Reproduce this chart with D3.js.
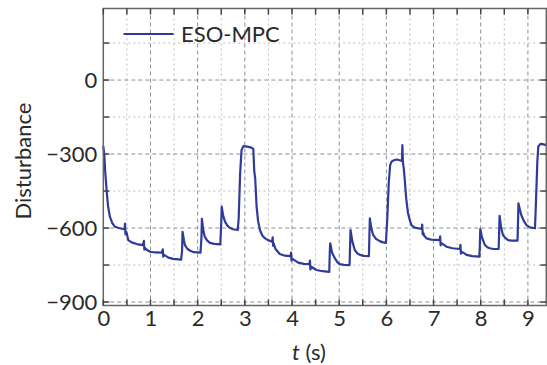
<!DOCTYPE html>
<html>
<head>
<meta charset="utf-8">
<script src="https://cdn.jsdelivr.net/npm/d3@7"></script>
<style>
  body { margin: 0; background: #fff; }
  svg { display: block; }
  text { font-family: Lato, "Open Sans", sans-serif; fill: #2a2a2a; }
</style>
</head>
<body>
<div id="plot"></div>
<script>
// Data (t in s, disturbance)
var tValues = [
  0.00, 0.02, 0.04, 0.07, 0.10, 0.14, 0.19, 0.25, 0.33, 0.42,
  0.45, 0.46, 0.47, 0.49, 0.53, 0.60, 0.71, 0.84,
  0.86, 0.87, 0.88, 0.92, 0.99, 1.10, 1.24,
  1.26, 1.27, 1.28, 1.38, 1.48, 1.59, 1.65,
  1.67, 1.68, 1.71, 1.73, 1.78, 1.84, 1.92, 2.06,
  2.08, 2.09, 2.12, 2.15, 2.20, 2.26, 2.35, 2.48,
  2.50, 2.51, 2.54, 2.58, 2.63, 2.68, 2.75, 2.85,
  2.87, 2.90, 2.93, 2.97, 3.05, 3.14, 3.18,
  3.20, 3.22, 3.25, 3.28, 3.32, 3.37, 3.43, 3.50, 3.58,
  3.59, 3.60, 3.61, 3.65, 3.74, 3.85, 3.97,
  3.98, 3.99, 4.00, 4.05, 4.13, 4.25, 4.37,
  4.38, 4.39, 4.40, 4.45, 4.52, 4.65, 4.79,
  4.80, 4.81, 4.85, 4.91, 4.96, 5.01, 5.10, 5.22,
  5.23, 5.24, 5.28, 5.33, 5.38, 5.44, 5.52, 5.63,
  5.64, 5.65, 5.68, 5.72, 5.78, 5.86, 5.93, 5.99,
  6.02, 6.05, 6.08, 6.11, 6.16, 6.22, 6.30, 6.33,
  6.34, 6.35, 6.37, 6.39, 6.42, 6.46, 6.50, 6.53, 6.60, 6.75,
  6.76, 6.77, 6.78, 6.80, 6.85, 6.95, 7.13,
  7.14, 7.15, 7.16, 7.20, 7.28, 7.40, 7.56,
  7.57, 7.58, 7.59, 7.63, 7.70, 7.82, 7.97,
  7.98, 7.99, 8.03, 8.09, 8.14, 8.19, 8.27, 8.38,
  8.39, 8.40, 8.43, 8.47, 8.52, 8.58, 8.65, 8.78,
  8.79, 8.80, 8.83, 8.86, 8.91, 8.97, 9.04, 9.15,
  9.17, 9.20, 9.22, 9.26, 9.29, 9.35, 9.39
];
var disturbance = [
  -268, -300, -370, -446, -510, -554, -580, -595, -600, -604,
  -606, -582, -626, -616, -649, -658, -665, -669,
  -652, -688, -680, -688, -696, -699, -700,
  -686, -716, -708, -720, -725, -727, -728,
  -690, -615, -650, -669, -684, -692, -698, -700,
  -640, -563, -610, -635, -650, -660, -664, -666,
  -580, -513, -550, -574, -590, -599, -605, -608,
  -560, -380, -284, -268, -270, -274, -280,
  -370, -400, -514, -570, -608, -630, -642, -650, -655,
  -638, -672, -662, -685, -705, -712, -714,
  -700, -732, -724, -730, -740, -745, -746,
  -732, -768, -756, -762, -770, -775, -778,
  -700, -662, -700, -723, -738, -746, -749, -750,
  -680, -608, -655, -689, -702, -709, -713, -714,
  -630, -561, -600, -628, -644, -653, -658, -660,
  -560, -420, -345, -331, -325, -322, -326, -328,
  -264, -332, -360, -405, -480, -541, -570, -588, -598, -604,
  -586, -626, -618, -630, -642, -647, -649,
  -634, -670, -660, -665, -676, -682, -685,
  -668, -704, -696, -700, -709, -714, -716,
  -680, -604, -640, -669, -678, -682, -685, -685,
  -620, -551, -595, -628, -640, -649, -651, -651,
  -580, -500, -525, -547, -570, -588, -597, -601,
  -500, -330, -270, -260, -259, -262, -264
];

var xTicks = [0, 1, 2, 3, 4, 5, 6, 7, 8, 9];
var xMinor = d3.range(0.5, 9.4, 1);
var yTicks = [-900, -600, -300, 0];
var yMinor = [-750, -450, -150, 150];

var seriesName = "ESO-MPC";
var xLabel = "t";
var yLabel = "Disturbance";

var width = 547, height = 365;
var lineColour = "#2f3b9b";
var fontSize = "22px";

var svg = d3.select("#plot")
  .append("svg")
  .attr("width", width)
  .attr("height", height);

var x = d3.scaleLinear().domain([0, 9.39]).range([103.3, 546.3]);
var y = d3.scaleLinear().domain([-914, 290]).range([305.5, 8.5]);

var plotLeft = x.range()[0], plotRight = x.range()[1];
var plotTop = y.range()[1], plotBottom = y.range()[0];

// Grid lines
var grid = svg.append("g");
grid.selectAll(".vminor").data(xMinor).enter().append("line")
  .attr("x1", d => x(d)).attr("x2", d => x(d))
  .attr("y1", plotTop).attr("y2", plotBottom)
  .attr("stroke", "#b8bcc0").attr("stroke-width", 1).attr("stroke-dasharray", "2,3");
grid.selectAll(".hminor").data(yMinor).enter().append("line")
  .attr("x1", plotLeft).attr("x2", plotRight)
  .attr("y1", d => y(d)).attr("y2", d => y(d))
  .attr("stroke", "#b8bcc0").attr("stroke-width", 1).attr("stroke-dasharray", "2,3");
grid.selectAll(".vmajor").data(xTicks.filter(d => d > 0)).enter().append("line")
  .attr("x1", d => x(d)).attr("x2", d => x(d))
  .attr("y1", plotTop).attr("y2", plotBottom)
  .attr("stroke", "#8a9098").attr("stroke-width", 1).attr("stroke-dasharray", "4,3");
grid.selectAll(".hmajor").data(yTicks).enter().append("line")
  .attr("x1", plotLeft).attr("x2", plotRight)
  .attr("y1", d => y(d)).attr("y2", d => y(d))
  .attr("stroke", "#8a9098").attr("stroke-width", 1).attr("stroke-dasharray", "4,3");

// Curve
var line = d3.line()
  .x((d, i) => x(tValues[i]))
  .y(d => y(d));

svg.append("path")
  .datum(disturbance)
  .attr("d", line)
  .attr("fill", "none")
  .attr("stroke", lineColour)
  .attr("stroke-width", 2.2)
  .attr("stroke-linejoin", "round");

// Frame
svg.append("rect")
  .attr("x", plotLeft).attr("y", plotTop)
  .attr("width", plotRight - plotLeft).attr("height", plotBottom - plotTop)
  .attr("fill", "none").attr("stroke", "#666").attr("stroke-width", 1.5);

// Ticks (inward) on all four sides
var allX = xTicks.concat(xMinor), allY = yTicks.concat(yMinor);
var tk = svg.append("g").attr("stroke", "#444").attr("stroke-width", 1.5);
allX.forEach(function(d) {
  tk.append("line").attr("x1", x(d)).attr("x2", x(d)).attr("y1", plotBottom).attr("y2", plotBottom - 6);
  tk.append("line").attr("x1", x(d)).attr("x2", x(d)).attr("y1", plotTop).attr("y2", plotTop + 6);
});
allY.forEach(function(d) {
  tk.append("line").attr("y1", y(d)).attr("y2", y(d)).attr("x1", plotLeft).attr("x2", plotLeft + 6);
  tk.append("line").attr("y1", y(d)).attr("y2", y(d)).attr("x1", plotRight).attr("x2", plotRight - 6);
});

// Tick labels via axes
var xAxis = d3.axisBottom(x).tickValues(xTicks).tickSize(0).tickPadding(5)
  .tickFormat(d3.format("d"));
var gx = svg.append("g").attr("transform", "translate(0," + plotBottom + ")").call(xAxis);
gx.select(".domain").remove();
gx.selectAll("text").style("font-family", "Lato, sans-serif").style("font-size", fontSize).attr("fill", "#2a2a2a");

var yAxis = d3.axisLeft(y).tickValues(yTicks).tickSize(0).tickPadding(6)
  .tickFormat(d => d < 0 ? "\u2212" + Math.abs(d) : d);
var gy = svg.append("g").attr("transform", "translate(" + plotLeft + ",0)").call(yAxis);
gy.select(".domain").remove();
gy.selectAll("text").style("font-family", "Lato, sans-serif").style("font-size", fontSize).attr("fill", "#2a2a2a");

// Axis titles
svg.append("text")
  .attr("transform", "translate(31,161) rotate(-90)")
  .attr("text-anchor", "middle")
  .style("font-size", fontSize)
  .text(yLabel);

var xt = svg.append("text")
  .attr("x", 309).attr("y", 360)
  .attr("text-anchor", "middle")
  .style("font-size", fontSize);
xt.append("tspan").style("font-style", "italic").text(xLabel);
xt.append("tspan").text(" (s)");

// Legend
svg.append("line")
  .attr("x1", 123.5).attr("x2", 173.5).attr("y1", 34).attr("y2", 34)
  .attr("stroke", lineColour).attr("stroke-width", 2);
svg.append("text")
  .attr("x", 181).attr("y", 41.5)
  .style("font-size", fontSize)
  .text(seriesName);
</script>
</body>
</html>
